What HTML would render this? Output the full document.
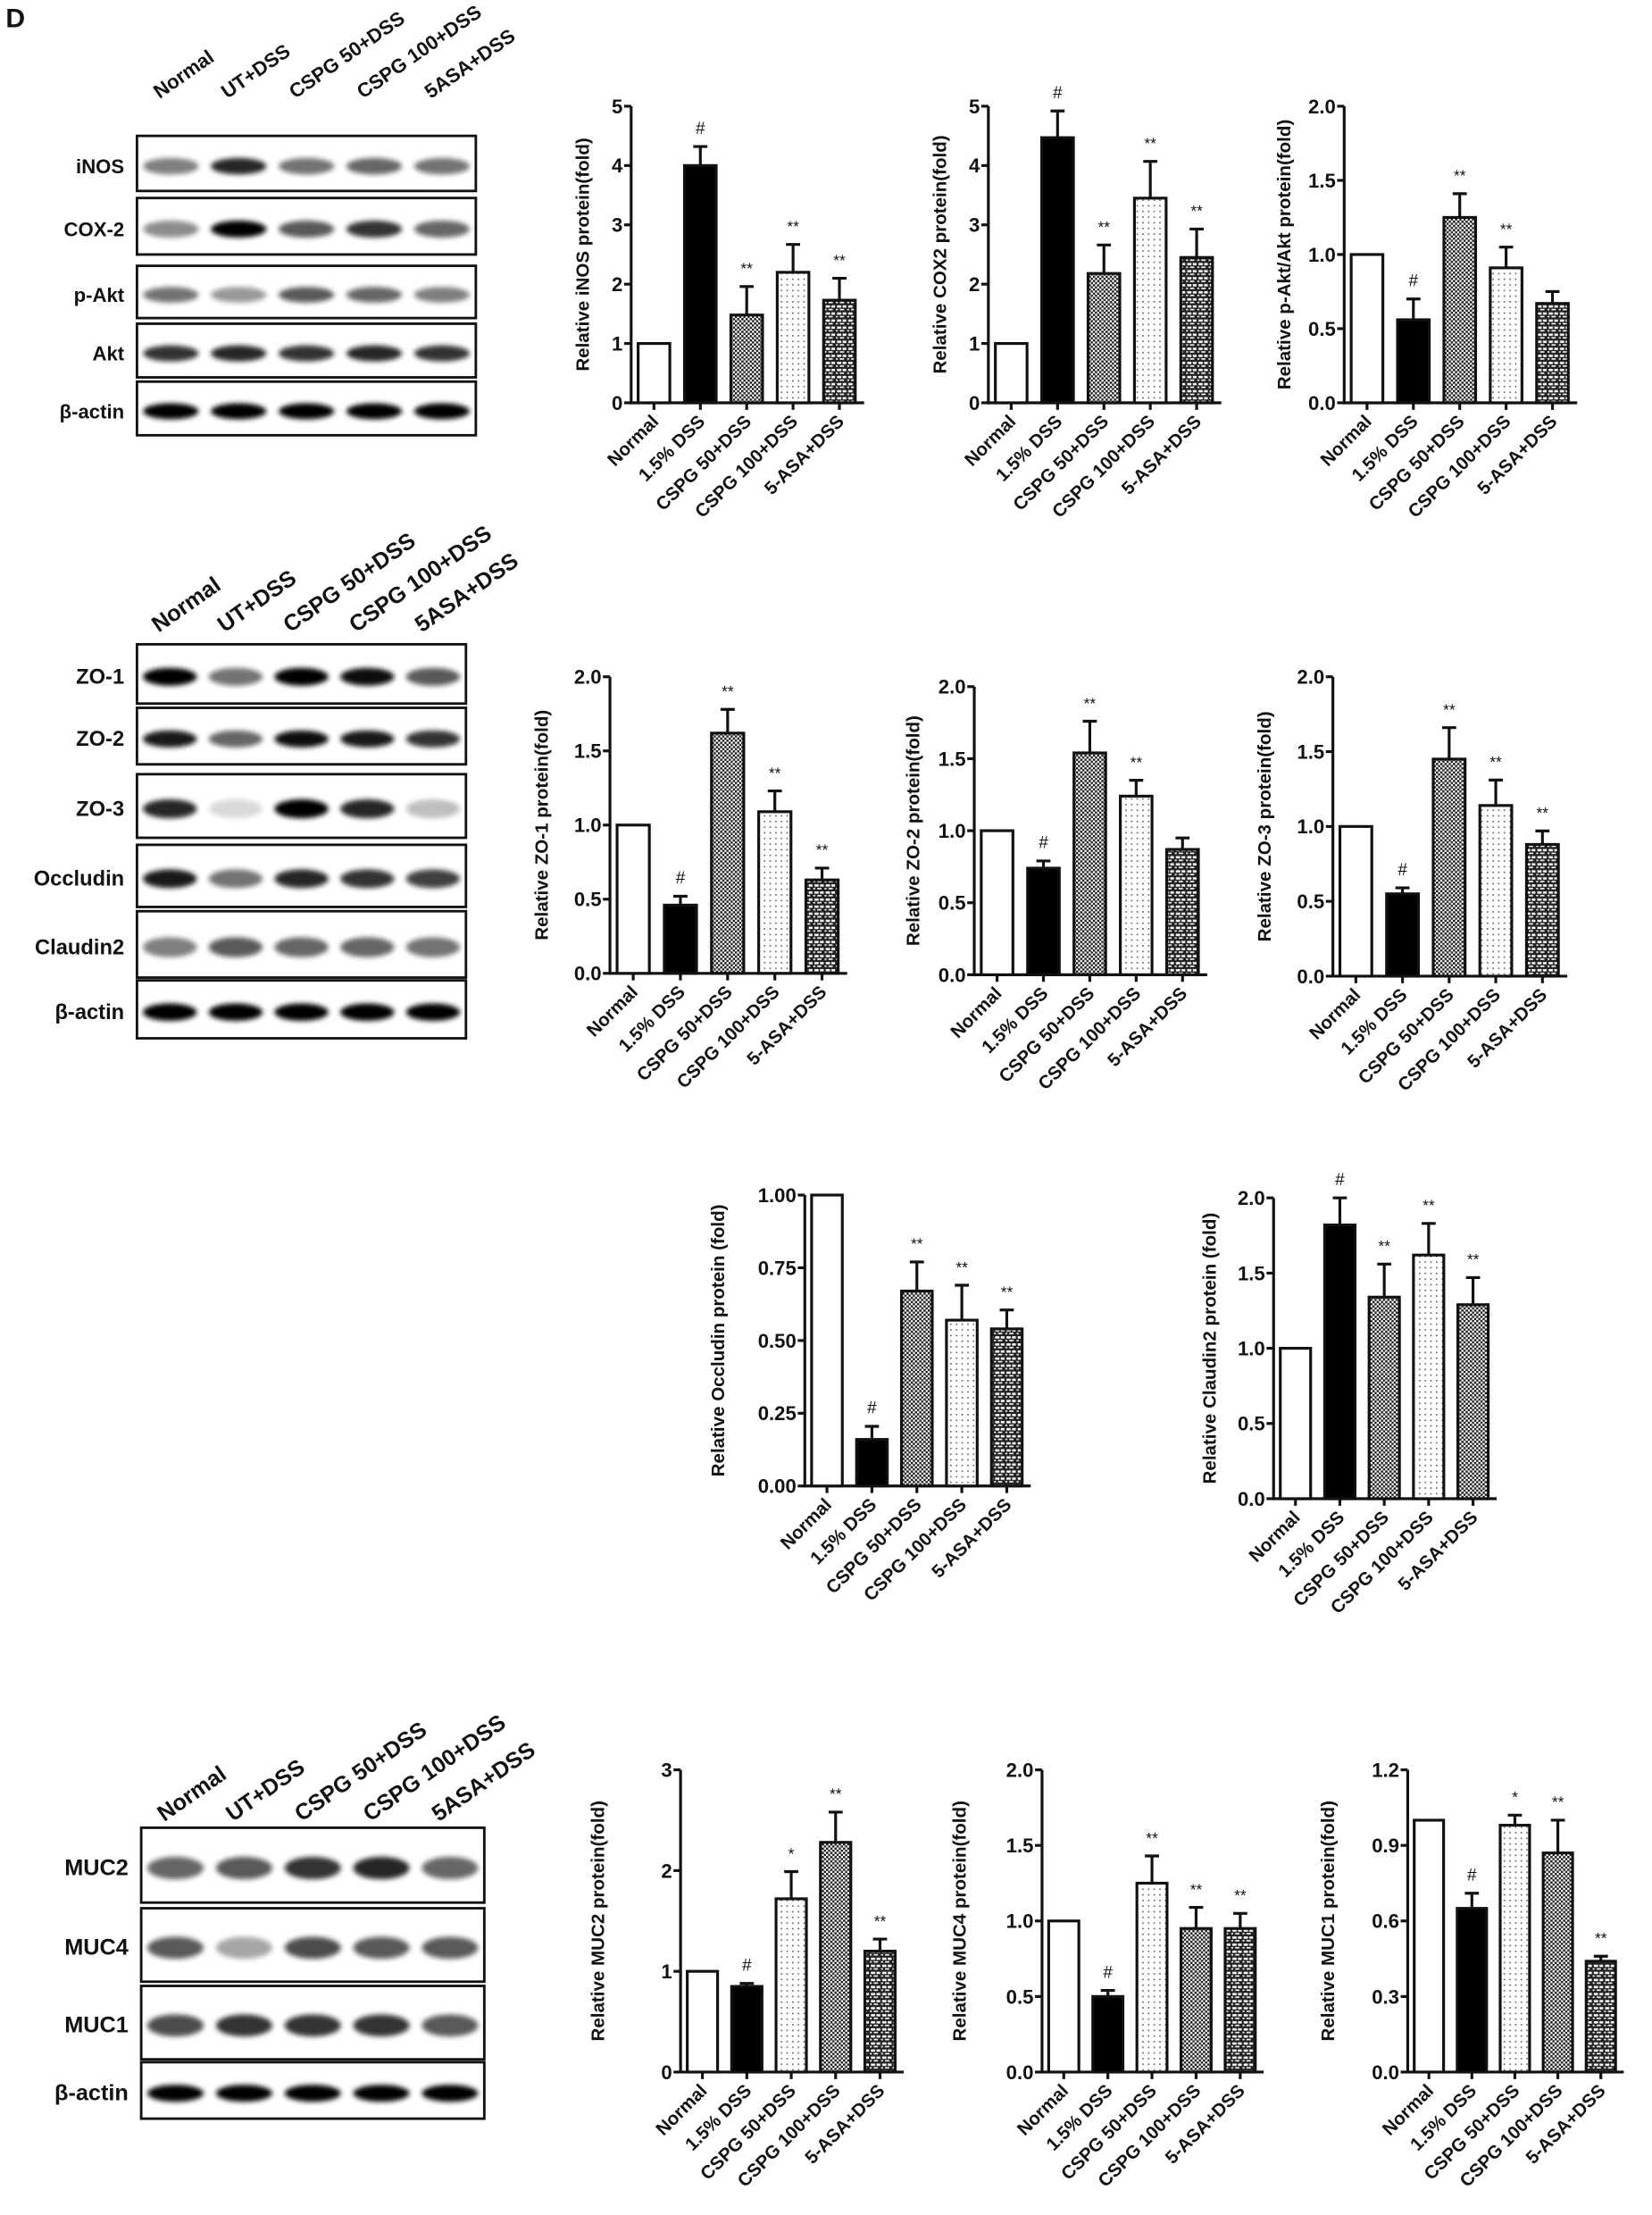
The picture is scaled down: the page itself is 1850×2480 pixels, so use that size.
<!DOCTYPE html>
<html><head><meta charset="utf-8"><style>
html,body{margin:0;padding:0;background:#fff}
svg{display:block}
text{font-family:"Liberation Sans",Arial,sans-serif;font-weight:bold;fill:#111}
</style></head><body>
<svg id="fig" xmlns="http://www.w3.org/2000/svg" width="1850" height="2480" viewBox="0 0 1170 1568">
<defs>
<pattern id="checker" patternUnits="userSpaceOnUse" width="3" height="3"><rect width="3" height="3" fill="#fff"/><rect width="1.6" height="1.6" fill="#222"/><rect x="1.5" y="1.5" width="1.5" height="1.5" fill="#222"/></pattern>
<pattern id="dots" patternUnits="userSpaceOnUse" width="4" height="4"><rect width="4" height="4" fill="#fff"/><rect x="1" y="1" width="1" height="1" fill="#555"/></pattern>
<pattern id="brick" patternUnits="userSpaceOnUse" width="8" height="5"><rect width="8" height="5" fill="#222"/><rect x="0.8" y="1" width="3" height="1.6" fill="#fff"/><rect x="4.8" y="1" width="2.6" height="1.6" fill="#fff"/><rect x="0" y="3.5" width="1.4" height="1" fill="#fff"/><rect x="2.8" y="3.5" width="3" height="1" fill="#fff"/></pattern>
<filter id="blur" x="-20%" y="-60%" width="140%" height="220%"><feGaussianBlur stdDeviation="1.8"/></filter>
</defs>
<text x="4" y="19" font-size="19">D</text>
</svg>
<script>
const categories=["Normal","1.5% DSS","CSPG 50+DSS","CSPG 100+DSS","5-ASA+DSS"];
const laneNames=["Normal","UT+DSS","CSPG 50+DSS","CSPG 100+DSS","5ASA+DSS"];
const inosValues=[1,4.0,1.48,2.2,1.73];
const inosErrors=[0,0.32,0.48,0.47,0.37];
const inosMarks=["","#","**","**","**"];
const inosTicks=["0","1","2","3","4","5"];
const cox2Values=[1,4.47,2.18,3.45,2.45];
const cox2Errors=[0,0.45,0.48,0.62,0.48];
const cox2Marks=["","#","**","**","**"];
const cox2Ticks=["0","1","2","3","4","5"];
const paktValues=[1,0.56,1.25,0.91,0.67];
const paktErrors=[0,0.14,0.16,0.14,0.08];
const paktMarks=["","#","**","**",""];
const paktTicks=["0.0","0.5","1.0","1.5","2.0"];
const zo1Values=[1,0.46,1.62,1.09,0.63];
const zo1Errors=[0,0.06,0.16,0.14,0.08];
const zo1Marks=["","#","**","**","**"];
const zo2Values=[1,0.74,1.54,1.24,0.87];
const zo2Errors=[0,0.05,0.22,0.11,0.08];
const zo2Marks=["","#","**","**",""];
const zo3Values=[1,0.55,1.45,1.14,0.88];
const zo3Errors=[0,0.04,0.21,0.17,0.09];
const zo3Marks=["","#","**","**","**"];
const zoTicks=["0.0","0.5","1.0","1.5","2.0"];
const occValues=[1,0.16,0.67,0.57,0.54];
const occErrors=[0,0.045,0.10,0.12,0.065];
const occMarks=["","#","**","**","**"];
const occTicks=["0.00","0.25","0.50","0.75","1.00"];
const cldValues=[1,1.82,1.34,1.62,1.29];
const cldErrors=[0,0.18,0.22,0.21,0.18];
const cldMarks=["","#","**","**","**"];
const cldTicks=["0.0","0.5","1.0","1.5","2.0"];
const muc2Values=[1,0.85,1.72,2.28,1.2];
const muc2Errors=[0,0.03,0.27,0.30,0.12];
const muc2Marks=["","#","*","**","**"];
const muc2Ticks=["0","1","2","3"];
const muc4Values=[1,0.5,1.25,0.95,0.95];
const muc4Errors=[0,0.04,0.18,0.14,0.1];
const muc4Marks=["","#","**","**","**"];
const muc4Ticks=["0.0","0.5","1.0","1.5","2.0"];
const muc1Values=[1,0.65,0.98,0.87,0.44];
const muc1Errors=[0,0.06,0.04,0.13,0.02];
const muc1Marks=["","#","*","**","**"];
const muc1Ticks=["0.0","0.3","0.6","0.9","1.2"];

const NS="http://www.w3.org/2000/svg";
const svg=document.getElementById("fig");
function mk(tag,attrs,parent){const e=document.createElementNS(NS,tag);for(const k in attrs)e.setAttribute(k,attrs[k]);(parent||svg).appendChild(e);return e;}

function chart(id,title,ax,axEnd,yTop,yBot,ymax,ticks,values,errors,marks,fills,titleX){
  const g=mk("g",{});
  
  
  const L=axEnd-ax;
  const yS=v=>yBot-(v/ymax)*(yBot-yTop);
  const xS=i=>ax+L*(0.098+0.199*i);
  const bw=L*0.136;
  const yaxis=mk("line",{x1:ax,y1:yTop,x2:ax,y2:yBot+1,stroke:"#111","stroke-width":2},g);
  
  
  const xaxis=mk("line",{x1:ax-1,y1:yBot,x2:axEnd,y2:yBot,stroke:"#111","stroke-width":2},g);
  
  
  ticks.forEach((t,i)=>{
    const v=parseFloat(t);const y=yS(v);
    mk("line",{x1:ax-5,y1:y,x2:ax,y2:y,stroke:"#111","stroke-width":2},g);
    const tx=mk("text",{x:ax-6,y:y+5,"font-size":14,"text-anchor":"end"},g);
    tx.textContent=t;
    
    
  });
  const yt=mk("text",{x:titleX,y:(yTop+yBot)/2,"font-size":13,"text-anchor":"middle",transform:`rotate(-90 ${titleX} ${(yTop+yBot)/2})`},g);
  yt.textContent=title;
  
  
  values.forEach((v,i)=>{
    const cx=xS(i),top=yS(v);
    const r=mk("rect",{x:cx-bw/2,y:top,width:bw,height:yBot-top,fill:fills[i],stroke:"#111","stroke-width":2},g);
    
    
    if(errors[i]>0){
      const et=yS(v+errors[i]);
      const e=mk("path",{d:`M${cx} ${top}V${et}M${cx-5} ${et}H${cx+5}`,stroke:"#111","stroke-width":2,fill:"none"},g);
      
      
    }
    if(marks[i]){
      const mt=mk("text",{x:cx,y:yS(v+errors[i])-9,"font-size":marks[i]==="#"?12:11,"text-anchor":"middle"},g);
      mt.style.fontWeight="normal";
      mt.textContent=marks[i];
      
      
    }
    mk("line",{x1:cx,y1:yBot,x2:cx,y2:yBot+5,stroke:"#111","stroke-width":2},g);
    const lx=cx+4,ly=yBot+14;
    const lt=mk("text",{x:lx,y:ly,"font-size":13,"text-anchor":"end",transform:`rotate(-45 ${lx} ${ly})`},g);
    lt.textContent=categories[i];
    
    
  });
}
const F1=["#fff","#000","url(#checker)","url(#dots)","url(#brick)"];
const F2=["#fff","#000","url(#dots)","url(#checker)","url(#brick)"];
chart("inos","Relative iNOS protein(fold)",447,612,75,285,5,inosTicks,inosValues,inosErrors,inosMarks,F1,417);
chart("cox2","Relative COX2 protein(fold)",700,865,75,285,5,cox2Ticks,cox2Values,cox2Errors,cox2Marks,F1,670);
chart("pakt","Relative p-Akt/Akt protein(fold)",952,1117,75,285,2,paktTicks,paktValues,paktErrors,paktMarks,F1,914);
chart("zo1","Relative ZO-1 protein(fold)",432,600,479,689,2,zoTicks,zo1Values,zo1Errors,zo1Marks,F1,388);
chart("zo2","Relative ZO-2 protein(fold)",690,855,486,690,2,zoTicks,zo2Values,zo2Errors,zo2Marks,F1,651);
chart("zo3","Relative ZO-3 protein(fold)",944,1110,479,691,2,zoTicks,zo3Values,zo3Errors,zo3Marks,F1,900);
chart("occludin","Relative Occludin protein (fold)",570,730,846,1052,1,occTicks,occValues,occErrors,occMarks,F1,513);
chart("claudin2","Relative Claudin2 protein (fold)",902,1060,848,1061,2,cldTicks,cldValues,cldErrors,cldMarks,["#fff","#000","url(#checker)","url(#dots)","url(#checker)"],861);
chart("muc2","Relative MUC2 protein(fold)",482,640,1253,1467,3,muc2Ticks,muc2Values,muc2Errors,muc2Marks,F2,428);
chart("muc4","Relative MUC4 protein(fold)",738,895,1253,1467,2,muc4Ticks,muc4Values,muc4Errors,muc4Marks,F2,684);
chart("muc1","Relative MUC1 protein(fold)",997,1150,1253,1467,1.2,muc1Ticks,muc1Values,muc1Errors,muc1Marks,F2,945);

function blot(id,x0,x1,rows,headY,headSize,labSize){
  const g=mk("g",{});
  
  
  const w=x1-x0;
  laneNames.forEach((n,i)=>{
    const lx=x0+w*(0.1+0.2*i)-8,ly=headY;
    const t=mk("text",{x:lx,y:ly,"font-size":headSize,transform:`rotate(-35 ${lx} ${ly})`},g);
    t.textContent=n;
    
    
  });
  rows.forEach(r=>{
    const [name,y0,y1,ints]=r;
    const box=mk("rect",{x:x0,y:y0,width:w,height:y1-y0,fill:"#fff",stroke:"#111","stroke-width":1.8},g);
    
    
    const cy=(y0+y1)/2+2;
    ints.forEach((v,i)=>{
      mk("ellipse",{cx:x0+w*(0.1+0.2*i),cy:cy,rx:w*0.082,ry:(y1-y0)*0.15,fill:"#000","fill-opacity":v,filter:"url(#blur)"},g);
    });
    const l=mk("text",{x:x0-9,y:cy+5,"font-size":labSize,"text-anchor":"end"},g);
    l.textContent=name;
    
    
  });
}
blot("inflammation",97,337,[
 ["iNOS",96,135,[0.5,0.85,0.55,0.6,0.55]],
 ["COX-2",140,180,[0.45,1,0.65,0.8,0.6]],
 ["p-Akt",188,225,[0.55,0.4,0.65,0.6,0.5]],
 ["Akt",229,267,[0.8,0.85,0.8,0.85,0.8]],
 ["β-actin",270,308,[1,1,1,1,1]]],70,14,14);
blot("tight-junction",97,330,[
 ["ZO-1",456,498,[1,0.55,1,0.95,0.65]],
 ["ZO-2",501,541,[0.9,0.6,0.95,0.9,0.8]],
 ["ZO-3",548,593,[0.85,0.15,1,0.85,0.25]],
 ["Occludin",598,642,[0.9,0.55,0.85,0.8,0.75]],
 ["Claudin2",645,692,[0.5,0.65,0.6,0.6,0.55]],
 ["β-actin",694,735,[1,1,1,1,1]]],448,16,15);
blot("mucin",100,343,[
 ["MUC2",1294,1347,[0.6,0.65,0.8,0.85,0.6]],
 ["MUC4",1351,1403,[0.65,0.35,0.7,0.65,0.65]],
 ["MUC1",1406,1458,[0.7,0.8,0.8,0.8,0.65]],
 ["β-actin",1460,1500,[1,1,1,1,1]]],1290,16,16);
</script>
</body></html>
